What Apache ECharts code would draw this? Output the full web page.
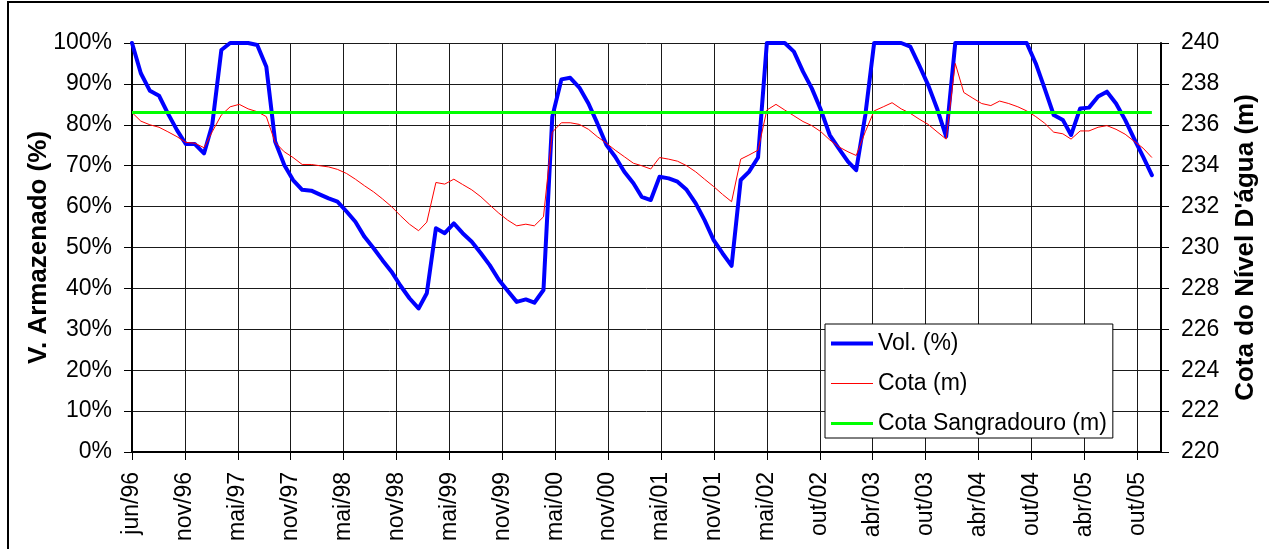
<!DOCTYPE html>
<html>
<head>
<meta charset="utf-8">
<script src="https://cdn.jsdelivr.net/npm/echarts@6/dist/echarts.min.js"></script>
<style>
  html, body { margin: 0; padding: 0; background: #fff; }
  #chart { width: 1269px; height: 549px; }
</style>
</head>
<body>
<div id="chart"></div>
<script>
// Monthly readings, jun/96 to dez/05
const meses = ['jan', 'fev', 'mar', 'abr', 'mai', 'jun', 'jul', 'ago', 'set', 'out', 'nov', 'dez'];

const datas = [
  '1996-06', '1996-07', '1996-08', '1996-09', '1996-10', '1996-11', '1996-12', '1997-01', '1997-02', '1997-03', '1997-04', '1997-05',
  '1997-06', '1997-07', '1997-08', '1997-09', '1997-10', '1997-11', '1997-12', '1998-01', '1998-02', '1998-03', '1998-04', '1998-05',
  '1998-06', '1998-07', '1998-08', '1998-09', '1998-10', '1998-11', '1998-12', '1999-01', '1999-02', '1999-03', '1999-04', '1999-05',
  '1999-06', '1999-07', '1999-08', '1999-09', '1999-10', '1999-11', '1999-12', '2000-01', '2000-02', '2000-03', '2000-04', '2000-05',
  '2000-06', '2000-07', '2000-08', '2000-09', '2000-10', '2000-11', '2000-12', '2001-01', '2001-02', '2001-03', '2001-04', '2001-05',
  '2001-06', '2001-07', '2001-08', '2001-09', '2001-10', '2001-11', '2001-12', '2002-01', '2002-02', '2002-03', '2002-04', '2002-05',
  '2002-06', '2002-07', '2002-08', '2002-09', '2002-10', '2002-11', '2002-12', '2003-01', '2003-02', '2003-03', '2003-04', '2003-05',
  '2003-06', '2003-07', '2003-08', '2003-09', '2003-10', '2003-11', '2003-12', '2004-01', '2004-02', '2004-03', '2004-04', '2004-05',
  '2004-06', '2004-07', '2004-08', '2004-09', '2004-10', '2004-11', '2004-12', '2005-01', '2005-02', '2005-03', '2005-04', '2005-05',
  '2005-06', '2005-07', '2005-08', '2005-09', '2005-10', '2005-11', '2005-12'
];

// Volume armazenado (%)
const volume = [
  100, 92.6, 88.3, 87.1, 82.8, 78.7, 75.3, 75.3, 73.0, 80.0, 98.3, 100,
  100, 100, 99.5, 94.2, 75.9, 70.2, 66.5, 64.1, 63.9, 63.0, 62.0, 61.2,
  58.8, 56.3, 52.6, 49.8, 46.9, 44.1, 40.7, 37.6, 35.1, 38.8, 54.7, 53.5,
  55.9, 53.5, 51.4, 48.6, 45.7, 42.1, 39.4, 36.7, 37.3, 36.5, 39.6, 82.0,
  91.1, 91.5, 89.1, 85.2, 80.4, 75.1, 72.2, 68.5, 65.7, 62.4, 61.6, 67.3,
  66.9, 66.1, 64.1, 60.8, 56.7, 51.8, 48.6, 45.5, 66.5, 68.5, 72.0, 100,
  100, 100, 97.9, 93.0, 88.9, 83.6, 77.5, 74.2, 71.0, 68.9, 82.4, 100,
  100, 100, 100, 99.1, 94.6, 89.7, 84.0, 77.1, 100, 100, 100, 100,
  100, 100, 100, 100, 100, 95.0, 88.9, 82.4, 81.2, 77.5, 84.0, 84.2,
  86.9, 88.1, 85.2, 81.2, 76.7, 72.2, 67.7
];

// Cota do nível d'água (m)
const cota = [
  236.60, 236.18, 236.00, 235.88, 235.66, 235.42, 235.14, 235.10, 234.88, 235.66, 236.48, 236.88,
  237.00, 236.78, 236.64, 236.40, 235.14, 234.68, 234.40, 234.06, 234.06, 234.00, 233.94, 233.82,
  233.62, 233.34, 233.02, 232.72, 232.38, 232.00, 231.56, 231.14, 230.82, 231.24, 233.18, 233.10,
  233.34, 233.08, 232.82, 232.48, 232.08, 231.68, 231.34, 231.06, 231.14, 231.06, 231.50, 235.64,
  236.10, 236.10, 236.02, 235.78, 235.42, 235.10, 234.76, 234.44, 234.12, 234.00, 233.84, 234.40,
  234.32, 234.22, 234.00, 233.70, 233.34, 232.98, 232.60, 232.24, 234.32, 234.52, 234.76, 236.72,
  237.00, 236.72, 236.44, 236.16, 235.96, 235.66, 235.26, 234.92, 234.68, 234.50, 235.66, 236.68,
  236.88, 237.08, 236.78, 236.56, 236.28, 236.02, 235.66, 235.30, 239.00, 237.58, 237.30, 237.04,
  236.94, 237.16, 237.04, 236.88, 236.68, 236.40, 236.08, 235.64, 235.56, 235.30, 235.70, 235.70,
  235.88, 235.96, 235.78, 235.54, 235.20, 234.86, 234.40
];

// Cota do sangradouro (m)
const cotaSangradouro = 236.6;

// Horizontal scale: days counted from the first reading; ticks every 180 days
const DIA = 86400000;
const origem = Date.UTC(1996, 5, 1);
const fimEixo = '2006-01';
const diaDe = s => {
  const [a, m] = s.split('-').map(Number);
  return (Date.UTC(a, m - 1, 1) - origem) / DIA;
};
const rotuloData = v => {
  const d = new Date(origem + v * DIA);
  return meses[d.getUTCMonth()] + '/' + String(d.getUTCFullYear()).slice(2);
};

const dias = datas.map(diaDe);
const serieVol = dias.map((d, i) => [d, volume[i]]);
const serieCota = dias.map((d, i) => [d, cota[i]]);
const serieSangr = [[dias[0], cotaSangradouro], [dias[dias.length - 1], cotaSangradouro]];

const FONTE = 'Liberation Sans, Arial, Helvetica, sans-serif';
const GRADE = '#1a1a1a';
const AZUL = '#0000ff';
const VERMELHO = '#ff0000';
const VERDE = '#00ff00';

// Legend swatches: flat bars as thick as each series line
const barra = h => 'path://M0,0H42V' + h + 'H0Z';

const chart = echarts.init(document.getElementById('chart'), null, { renderer: 'canvas' });

chart.setOption({
  animation: false,
  backgroundColor: '#fff',
  textStyle: { fontFamily: FONTE, color: '#000' },
  graphic: [{
    type: 'rect',
    silent: true,
    z: 100,
    shape: { x: 8, y: 2, width: 1300, height: 600 },
    style: { fill: null, stroke: '#000', lineWidth: 2 }
  }],
  grid: { left: 132, right: 108, top: 43, bottom: 97, containLabel: false },
  legend: {
    orient: 'vertical',
    left: 825,
    top: 324,
    padding: [8, 6, 3, 6],
    itemWidth: 42,
    itemHeight: 4,
    itemGap: 17,
    symbolKeepAspect: true,
    backgroundColor: '#fff',
    borderColor: '#000',
    borderWidth: 1,
    borderRadius: 0,
    itemStyle: { borderWidth: 0 },
    textStyle: { fontFamily: FONTE, fontSize: 23, color: '#000', lineHeight: 23 },
    data: [
      { name: 'Vol. (%)', icon: barra(4), itemStyle: { color: AZUL, borderWidth: 0 } },
      { name: 'Cota (m)', icon: barra(1), itemStyle: { color: VERMELHO, borderWidth: 0 } },
      { name: 'Cota Sangradouro (m)', icon: barra(3), itemStyle: { color: VERDE, borderWidth: 0 } }
    ]
  },
  xAxis: {
    type: 'value',
    min: 0,
    max: diaDe(fimEixo),
    interval: 180,
    axisLine: { show: true, lineStyle: { color: '#000', width: 2 } },
    axisTick: { show: true, length: 8, lineStyle: { color: '#000', width: 1 } },
    axisLabel: {
      rotate: 90,
      margin: 20,
      fontFamily: FONTE,
      fontSize: 23,
      color: '#000',
      showMaxLabel: false,
      formatter: rotuloData
    },
    splitLine: { show: true, lineStyle: { color: GRADE, width: 1 } }
  },
  yAxis: [{
    type: 'value',
    min: 0,
    max: 100,
    interval: 10,
    position: 'left',
    name: 'V. Armazenado (%)',
    nameLocation: 'middle',
    nameRotate: 90,
    nameGap: 80,
    nameMoveOverlap: false,
    nameTextStyle: { fontFamily: FONTE, fontSize: 26, fontWeight: 'bold', color: '#000' },
    axisLine: { show: true, lineStyle: { color: '#000', width: 2 } },
    axisTick: { show: true, length: 8, lineStyle: { color: '#000', width: 1 } },
    axisLabel: { margin: 20, fontFamily: FONTE, fontSize: 23, color: '#000', formatter: '{value}%' },
    splitLine: { show: true, lineStyle: { color: GRADE, width: 1 } }
  }, {
    type: 'value',
    min: 220,
    max: 240,
    interval: 2,
    position: 'right',
    name: "Cota do Nível D'água (m)",
    nameLocation: 'middle',
    nameRotate: 90,
    nameGap: 72,
    nameMoveOverlap: false,
    nameTextStyle: { fontFamily: FONTE, fontSize: 26, fontWeight: 'bold', color: '#000' },
    axisLine: { show: true, lineStyle: { color: '#000', width: 2 } },
    axisTick: { show: true, length: 8, lineStyle: { color: '#000', width: 1 } },
    axisLabel: { margin: 20, fontFamily: FONTE, fontSize: 23, color: '#000' },
    splitLine: { show: false }
  }],
  series: [{
    name: 'Vol. (%)',
    type: 'line',
    yAxisIndex: 0,
    data: serieVol,
    symbol: 'none',
    clip: false,
    lineStyle: { color: AZUL, width: 4, join: 'round', cap: 'round' },
    itemStyle: { color: AZUL },
    z: 3
  }, {
    name: 'Cota (m)',
    type: 'line',
    yAxisIndex: 1,
    data: serieCota,
    symbol: 'none',
    lineStyle: { color: VERMELHO, width: 1 },
    itemStyle: { color: VERMELHO },
    z: 4
  }, {
    name: 'Cota Sangradouro (m)',
    type: 'line',
    yAxisIndex: 1,
    data: serieSangr,
    symbol: 'none',
    lineStyle: { color: VERDE, width: 3 },
    itemStyle: { color: VERDE },
    z: 5
  }]
});
</script>
</body>
</html>
